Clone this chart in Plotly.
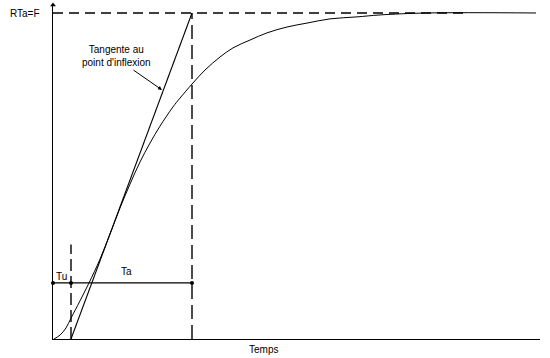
import plotly.graph_objects as go

# Step response (time in arbitrary units, value normalised to final value F = 1)
time = [1, 7, 13, 18, 27, 36, 47, 57, 67, 77, 87, 97, 107, 120, 127, 139, 152,
        167, 180, 197, 214, 234, 254, 277, 304, 327, 374, 483]
response = [0, 0.012, 0.034, 0.064, 0.117, 0.172, 0.245, 0.322, 0.402, 0.475,
            0.543, 0.601, 0.653, 0.712, 0.739, 0.782, 0.825, 0.865, 0.893, 0.917,
            0.939, 0.957, 0.969, 0.982, 0.988, 0.994, 1.0, 1.0]

final_value = 1.0
Tu = 18          # apparent dead time
Ta = 121         # rise time (tangent)
level_TuTa = 0.172
asymptote_end = 414

FONT = "Liberation Sans"
fig = go.Figure()

# response curve
fig.add_trace(go.Scatter(x=time, y=response, mode="lines", line_shape="spline",
                         line=dict(color="black", width=1), hoverinfo="skip"))
# tangent at inflection point
fig.add_trace(go.Scatter(x=[Tu, Tu + Ta], y=[0, final_value], mode="lines",
                         line=dict(color="black", width=1.1), hoverinfo="skip"))
# asymptote (dashed)
fig.add_trace(go.Scatter(x=[0, asymptote_end], y=[final_value, final_value], mode="lines",
                         line=dict(color="black", width=1.4, dash="10px,6px"), hoverinfo="skip"))
# vertical dashed lines
fig.add_trace(go.Scatter(x=[Tu, Tu], y=[0, 0.29], mode="lines",
                         line=dict(color="black", width=1.4, dash="12px,5px"), hoverinfo="skip"))
fig.add_trace(go.Scatter(x=[Tu + Ta, Tu + Ta], y=[0, final_value], mode="lines",
                         line=dict(color="black", width=1.4, dash="14px,6px"), hoverinfo="skip"))
# Tu / Ta measuring line
fig.add_trace(go.Scatter(x=[0, Tu, Tu + Ta], y=[level_TuTa] * 3, mode="lines+markers",
                         line=dict(color="black", width=1.2),
                         marker=dict(color="black", size=4), cliponaxis=False, hoverinfo="skip"))
# arrow head of y axis
fig.add_trace(go.Scatter(x=[0], y=[1.0245], mode="markers", cliponaxis=False,
                         marker=dict(symbol="triangle-up", size=5, color="black"), hoverinfo="skip"))

ann = [
    dict(x=0, y=final_value, xref="x", yref="y", text="RTa=F", showarrow=False,
         xanchor="right", xshift=-11, yshift=-1),
    dict(x=8, y=0.193, xref="x", yref="y", text="Tu", showarrow=False),
    dict(x=73, y=0.206, xref="x", yref="y", text="Ta", showarrow=False),
    dict(x=210, y=0, xref="x", yref="paper", text="Temps", showarrow=False,
         yanchor="top", yshift=-3),
    dict(x=63, y=0.868, xref="x", yref="y", text="Tangente au<br>point d'inflexion",
         showarrow=False, align="center"),
    dict(x=109, y=0.764, ax=79, ay=0.828, xref="x", yref="y", axref="x", ayref="y",
         text="", showarrow=True, arrowhead=2, arrowsize=0.8, arrowwidth=1, arrowcolor="black"),
]
for a in ann:
    a.setdefault("font", dict(family=FONT, size=10, color="black"))
fig.update_layout(annotations=ann)

fig.update_layout(
    width=550, height=358,
    margin=dict(l=53, r=10, t=5, b=19),
    paper_bgcolor="white", plot_bgcolor="white",
    showlegend=False,
    xaxis=dict(range=[0, 487], showgrid=False, zeroline=False, showticklabels=False,
               ticks="", showline=True, linecolor="black", linewidth=1.2),
    yaxis=dict(range=[0, 1.0245], showgrid=False, zeroline=False, showticklabels=False,
               ticks="", showline=True, linecolor="black", linewidth=1.2),
)
fig.write_html("out.html", config={"displayModeBar": False},
               post_script="document.body.style.margin='0px';")
